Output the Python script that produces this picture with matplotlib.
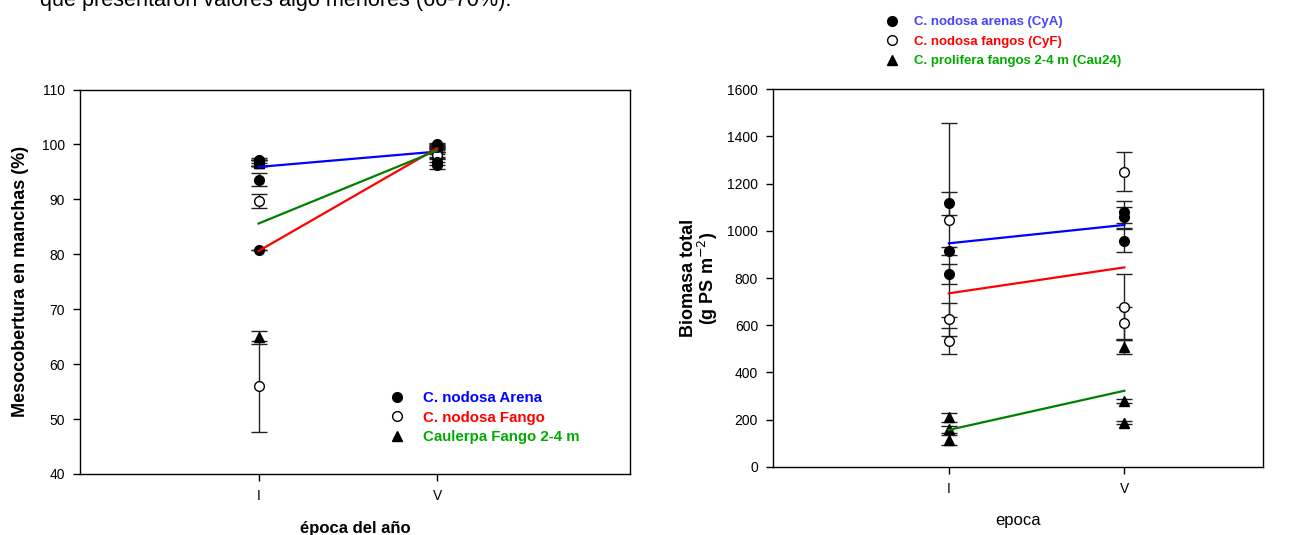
import matplotlib.pyplot as plt
from matplotlib.lines import Line2D

plt.rcParams['font.family'] = ['Liberation Sans', 'DejaVu Sans']

W, H = 1289, 535

# categorías del eje x
epocas = [1, 2]
epoca_labels = ["I", "V"]

# Mesocobertura en manchas (%)
meso_arena_I = [97.1, 96.6, 93.6, 80.7]
meso_arena_I_err = [0.5, 0.5, 1.2, 0.0]
meso_arena_V = [100.0, 99.6, 96.8, 96.2]
meso_arena_V_err = [0.3, 0.3, 0.6, 0.6]
meso_fango_I = [96.6, 89.7, 56.0]
meso_fango_I_err = [0.5, 1.2, 8.3]
meso_fango_V = [99.8, 98.6, 98.1]
meso_fango_V_err = [0.3, 0.4, 0.5]
meso_caul_I = [96.6, 96.6, 64.9]
meso_caul_I_err = [0.5, 0.5, 1.2]
meso_caul_V = [99.5, 99.0, 98.2]
meso_caul_V_err = [0.3, 0.3, 0.4]
meso_linea_arena = [95.9, 98.7]
meso_linea_fango = [80.6, 99.3]
meso_linea_caul = [85.6, 98.9]

# Biomasa total (g PS m-2)
bio_arena_I = [1117, 915, 817]
bio_arena_I_err = [49, 18, 42]
bio_arena_V = [1081, 1057, 958]
bio_arena_V_err = [47, 45, 49]
bio_fango_I = [1046, 625, 533]
bio_fango_I_err = [412, 70, 55]
bio_fango_V = [1251, 678, 608]
bio_fango_V_err = [84, 139, 70]
bio_caul_I = [209, 158, 113]
bio_caul_I_err = [20, 15, 21]
bio_caul_V = [509, 280, 187]
bio_caul_V_err = [32, 8, 5]
bio_linea_arena = [947, 1025]
bio_linea_fango = [735, 845]
bio_linea_caul = [156, 322]

fig = plt.figure(figsize=(W / 100, H / 100), dpi=100)


def px_axes(x0, x1, ytop, ybot):
    return fig.add_axes([x0 / W, 1 - ybot / H, (x1 - x0) / W, (ybot - ytop) / H])


def puntos(ax, x, vals, errs, marker, face, size):
    xs = [x] * len(vals)
    ax.errorbar(xs, vals, yerr=errs, fmt='none', ecolor='#222222',
                elinewidth=1, capsize=6, capthick=1, zorder=2)
    ax.plot(xs, vals, linestyle='none', marker=marker, markersize=size,
            markerfacecolor=face, markeredgecolor='black', markeredgewidth=1,
            zorder=3)


def estilo(ax):
    ax.set_xticks(epocas)
    ax.set_xticklabels(epoca_labels)
    ax.tick_params(direction='out', length=5, width=1, labelsize=10,
                   colors='black', pad=6)
    for s in ax.spines.values():
        s.set_linewidth(1)


def marcadores():
    return [Line2D([], [], ls='none', marker='o', color='black', markersize=7),
            Line2D([], [], ls='none', marker='o', mfc='white', mec='black',
                   markersize=7),
            Line2D([], [], ls='none', marker='^', color='black', markersize=7)]


fig.text(40 / W, 1 - 6 / H, "que presentaron valores algo menores (60-70%).",
         fontsize=15.6, va='baseline', ha='left')

# --- panel izquierdo ---
ax1 = px_axes(80, 630, 89.5, 474)
ax1.plot(epocas, meso_linea_arena, color='#0000FF', lw=1.6, zorder=4)
ax1.plot(epocas, meso_linea_fango, color='#FF0000', lw=1.6, zorder=4)
ax1.plot(epocas, meso_linea_caul, color='#008000', lw=1.6, zorder=4)
puntos(ax1, 1, meso_caul_I, meso_caul_I_err, '^', 'black', 7)
puntos(ax1, 2, meso_caul_V, meso_caul_V_err, '^', 'black', 7)
puntos(ax1, 1, meso_fango_I, meso_fango_I_err, 'o', 'white', 7)
puntos(ax1, 2, meso_fango_V, meso_fango_V_err, 'o', 'white', 7)
puntos(ax1, 1, meso_arena_I, meso_arena_I_err, 'o', 'black', 7)
puntos(ax1, 2, meso_arena_V, meso_arena_V_err, 'o', 'black', 7)
ax1.set_xlim(0, 3.08)
ax1.set_ylim(40, 110)
ax1.set_yticks(range(40, 111, 10))
estilo(ax1)
ax1.set_ylabel("Mesocobertura en manchas (%)", fontsize=13, fontweight='bold',
               labelpad=9)
ax1.set_xlabel("época del año", fontsize=12, fontweight='bold', labelpad=12.5)

ax1.legend(marcadores(), ["C. nodosa Arena", "C. nodosa Fango",
                          "Caulerpa Fango 2-4 m"],
           labelcolor=['#0000FF', '#FF0000', '#00AA00'],
           prop={'weight': 'bold', 'size': 10.8}, frameon=False,
           loc='upper left', bbox_to_anchor=(390 / W, 1 - 391 / H),
           bbox_transform=fig.transFigure, handlelength=0.9,
           handletextpad=1.3, labelspacing=0.37, borderpad=0, borderaxespad=0)

# --- panel derecho ---
ax2 = px_axes(773.3, 1263, 89.3, 466.7)
ax2.plot(epocas, bio_linea_arena, color='#0000FF', lw=1.6, zorder=4)
ax2.plot(epocas, bio_linea_fango, color='#FF0000', lw=1.6, zorder=4)
ax2.plot(epocas, bio_linea_caul, color='#008000', lw=1.6, zorder=4)
puntos(ax2, 1, bio_caul_I, bio_caul_I_err, '^', 'black', 7)
puntos(ax2, 2, bio_caul_V, bio_caul_V_err, '^', 'black', 7)
puntos(ax2, 1, bio_fango_I, bio_fango_I_err, 'o', 'white', 7)
puntos(ax2, 2, bio_fango_V, bio_fango_V_err, 'o', 'white', 7)
puntos(ax2, 1, bio_arena_I, bio_arena_I_err, 'o', 'black', 7)
puntos(ax2, 2, bio_arena_V, bio_arena_V_err, 'o', 'black', 7)
ax2.set_xlim(0, 2.79)
ax2.set_ylim(0, 1600)
ax2.set_yticks(range(0, 1601, 200))
estilo(ax2)
ax2.set_ylabel("Biomasa total\n(g PS m$^{-2}$)", fontsize=13, fontweight='bold',
               labelpad=5, linespacing=0.95)
ax2.set_xlabel("epoca", fontsize=12, labelpad=12)

ax2.legend(marcadores(), ["C. nodosa arenas (CyA)", "C. nodosa fangos (CyF)",
                          "C. prolifera fangos 2-4 m (Cau24)"],
           labelcolor=['#4444FF', '#FF0000', '#00AA00'],
           prop={'weight': 'bold', 'size': 9.5}, frameon=False,
           loc='upper left', bbox_to_anchor=(885 / W, 1 - 16 / H),
           bbox_transform=fig.transFigure, handlelength=1,
           handletextpad=1.2, labelspacing=0.55, borderpad=0, borderaxespad=0)

fig.savefig("out.png", dpi=100)
